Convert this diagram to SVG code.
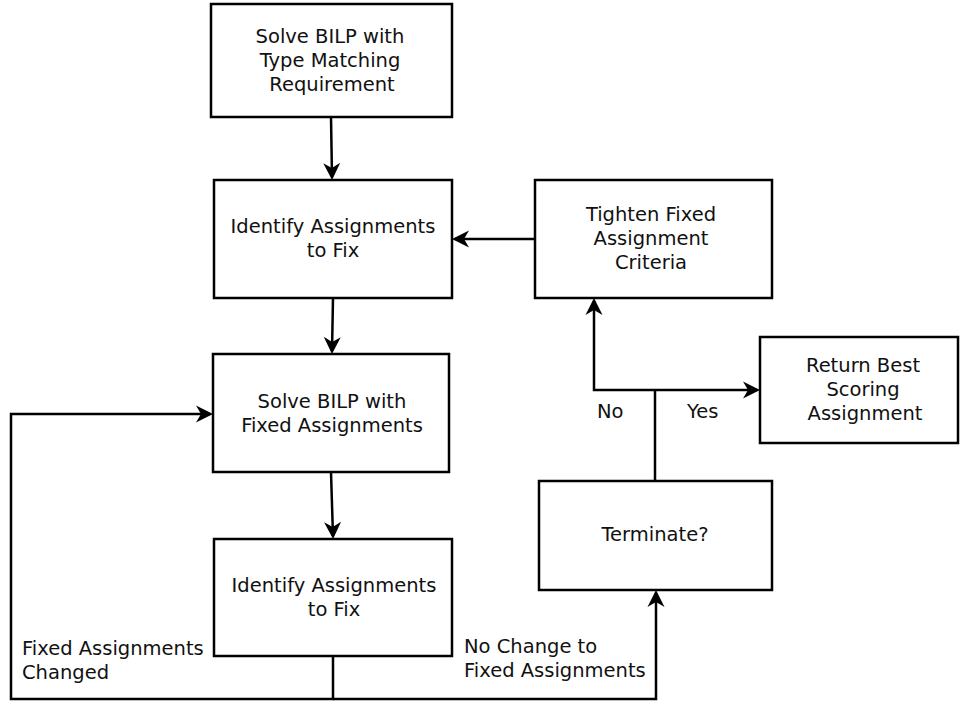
<svg xmlns="http://www.w3.org/2000/svg" width="960" height="702" viewBox="0 0 960 702">
  <style>
    .box { fill: #ffffff; stroke: #000000; stroke-width: 2.5; }
    .conn { fill: none; stroke: #000000; stroke-width: 2.5; }
    text { font-family: "DejaVu Sans", "Noto Sans", sans-serif; font-size: 19.5px; fill: #111111; }
    .c { text-anchor: middle; }
  </style>
  <defs>
    <marker id="arrow" markerUnits="userSpaceOnUse" markerWidth="40" markerHeight="40" viewBox="-20 -20 40 40" refX="0" refY="0" orient="auto" overflow="visible">
      <path d="M3,0 L-14,-8.5 L-9,0 L-14,8.5 Z" fill="#000000"/>
    </marker>
  </defs>
  <rect width="960" height="702" fill="#ffffff"/>

  <g id="connectors">
    <path class="conn" d="M331,117 L332,177" marker-end="url(#arrow)"/>
    <path class="conn" d="M333,298 L332,351" marker-end="url(#arrow)"/>
    <path class="conn" d="M331,472 L333,536" marker-end="url(#arrow)"/>
    <path class="conn" d="M535,239 L455,239" marker-end="url(#arrow)"/>
    <path class="conn" d="M333,656 L333,699 L11,699 L11,414 L210,414" marker-end="url(#arrow)"/>
    <path class="conn" d="M333,699 L656,699 L656,593" marker-end="url(#arrow)"/>
    <path class="conn" d="M655,481 L655,390"/>
    <path class="conn" d="M655,390 L757,390" marker-end="url(#arrow)"/>
    <path class="conn" d="M655,390 L594,390 L594,301" marker-end="url(#arrow)"/>
    <text x="597" y="418">No</text>
    <text x="687" y="418">Yes</text>
    <text x="22" y="655">Fixed Assignments</text>
    <text x="22" y="679">Changed</text>
    <text x="464" y="653">No Change to</text>
    <text x="464" y="677">Fixed Assignments</text>
  </g>

  <g id="solve-bilp-type">
    <rect class="box" x="211" y="4" width="241" height="113"/>
    <text class="c" x="330" y="43">Solve BILP with</text>
    <text class="c" x="330" y="67">Type Matching</text>
    <text class="c" x="332" y="91">Requirement</text>
  </g>

  <g id="identify-1">
    <rect class="box" x="214" y="180" width="238" height="118"/>
    <text class="c" x="333" y="233">Identify Assignments</text>
    <text class="c" x="333" y="257">to Fix</text>
  </g>

  <g id="tighten">
    <rect class="box" x="535" y="180" width="237" height="118"/>
    <text class="c" x="651" y="221">Tighten Fixed</text>
    <text class="c" x="651" y="245">Assignment</text>
    <text class="c" x="651" y="269">Criteria</text>
  </g>

  <g id="solve-bilp-fixed">
    <rect class="box" x="213" y="354" width="236" height="118"/>
    <text class="c" x="332" y="408">Solve BILP with</text>
    <text class="c" x="332" y="432">Fixed Assignments</text>
  </g>

  <g id="return-best">
    <rect class="box" x="760" y="337" width="198" height="106"/>
    <text class="c" x="863" y="372">Return Best</text>
    <text class="c" x="863" y="396">Scoring</text>
    <text class="c" x="865" y="420">Assignment</text>
  </g>

  <g id="identify-2">
    <rect class="box" x="214" y="539" width="238" height="117"/>
    <text class="c" x="334" y="592">Identify Assignments</text>
    <text class="c" x="334" y="616">to Fix</text>
  </g>

  <g id="terminate">
    <rect class="box" x="539" y="481" width="233" height="109"/>
    <text class="c" x="655" y="541">Terminate?</text>
  </g>
</svg>
